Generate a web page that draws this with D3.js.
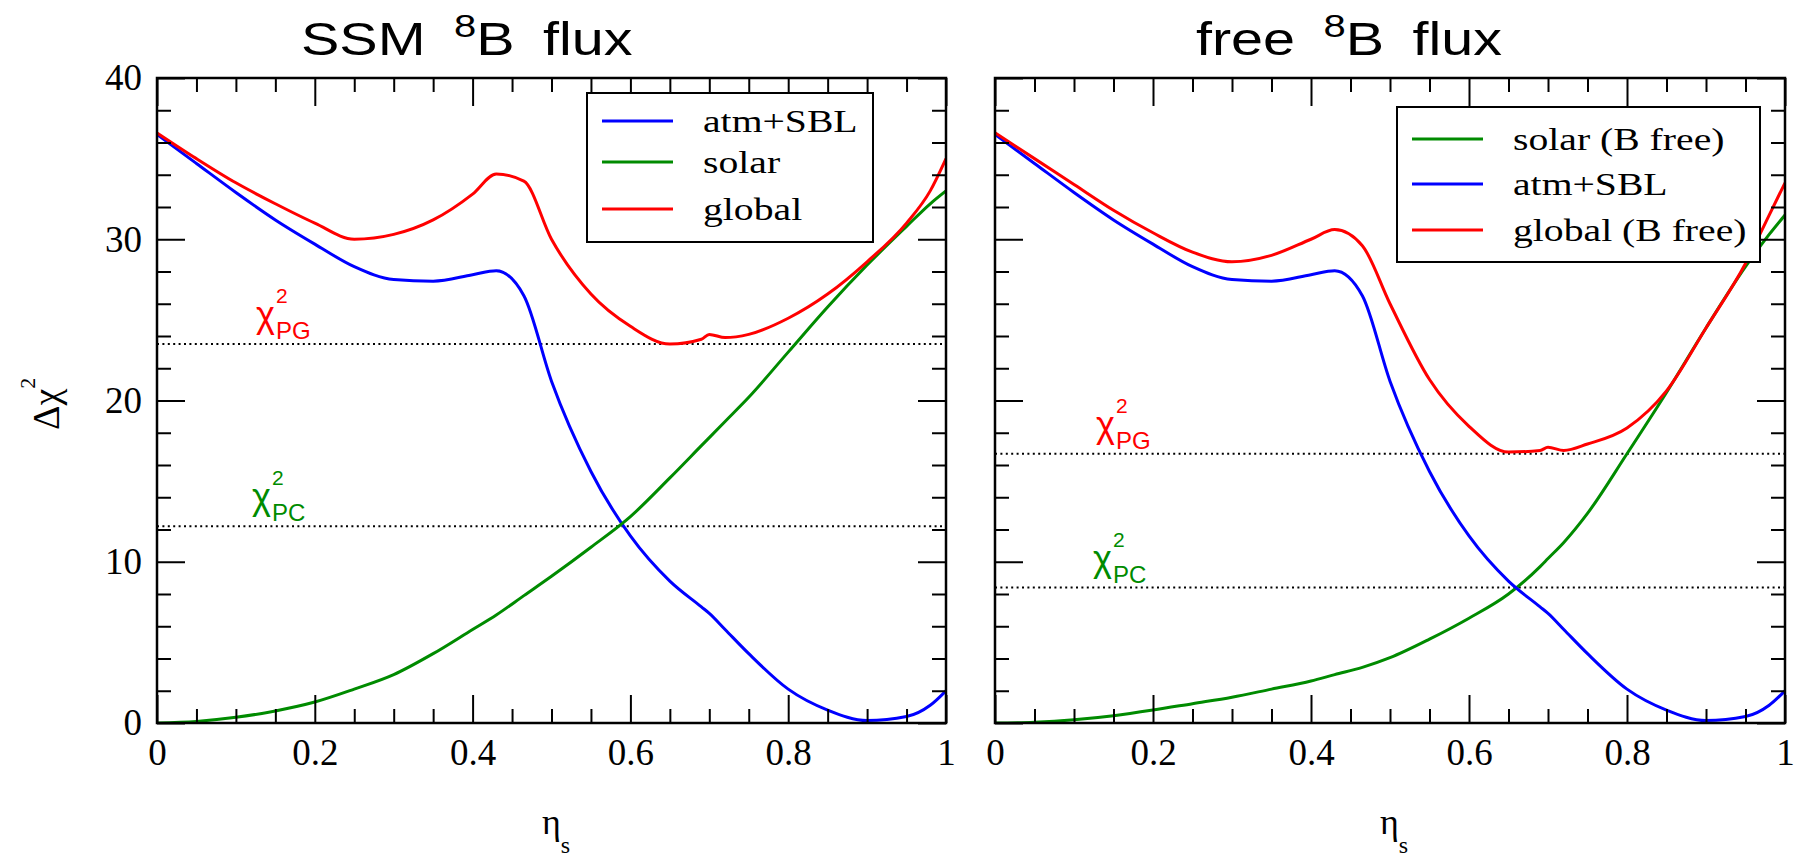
<!DOCTYPE html>
<meta charset="utf-8">
<style>
body { margin: 0; background: #fff; }
.tick text { font-family: "Liberation Serif", serif; font-size: 37px; fill: #000; }
.tick line { stroke: #000; stroke-width: 2; }
.sans { font-family: "Liberation Sans", Arial, sans-serif; }
.serif { font-family: "Liberation Serif", serif; }
</style>
<body>
<script src="https://d3js.org/d3.v7.min.js"></script>
<script>

width = 1802;
height = 859;

// eta_s grid shared by all curves
eta = [0, 0.05, 0.1, 0.15, 0.2, 0.25, 0.3, 0.35, 0.4, 0.43, 0.465, 0.5, 0.55, 0.6, 0.65, 0.69, 0.7, 0.72, 0.75, 0.8, 0.85, 0.9, 0.95, 0.98, 1]

atmSBL     = [36.5, 34.7, 32.9, 31.2, 29.7, 28.3, 27.5, 27.4, 27.8, 28.05, 26.5, 21.2, 15.6, 11.6, 8.8, 7.2, 6.8, 5.8, 4.3, 2.1, 0.8, 0.15, 0.4, 1.1, 2.0]
solarSSM   = [0, 0.1, 0.35, 0.75, 1.3, 2.1, 3.0, 4.3, 5.8, 6.7, 7.9, 9.1, 10.9, 12.8, 15.2, 17.2, 17.7, 18.7, 20.2, 23.0, 25.8, 28.4, 30.8, 32.2, 33.0]
globalSSM  = [36.6, 35.0, 33.5, 32.2, 31.0, 30.0, 30.3, 31.2, 32.8, 34.05, 33.6, 30.0, 26.6, 24.6, 23.5, 23.8, 24.1, 23.9, 24.1, 25.1, 26.6, 28.6, 31.0, 33.0, 35.0]
solarFree  = [0, 0.05, 0.2, 0.45, 0.8, 1.2, 1.6, 2.1, 2.6, 3.0, 3.45, 4.05, 5.2, 6.5, 8.0, 9.7, 10.2, 11.2, 13.0, 16.7, 20.5, 24.5, 28.3, 30.3, 31.5]
globalFree = [36.6, 35.0, 33.4, 31.8, 30.4, 29.2, 28.6, 29.0, 30.0, 30.6, 29.6, 26.0, 21.3, 18.4, 16.8, 16.9, 17.1, 16.9, 17.3, 18.3, 20.6, 24.5, 28.5, 31.5, 33.5]

xTicks = [0, 0.2, 0.4, 0.6, 0.8, 1]
yTicks = [0, 10, 20, 30, 40]
chiPG = [23.5, 16.7]
chiPC = [12.2, 8.4]
titleWords = ["SSM", "free"]
legendSSM = ["atm+SBL", "solar", "global"]
legendFree = ["solar (B free)", "atm+SBL", "global (B free)"]

colors = {atm: "#0000ff", solar: "#008b00", global: "#ff0000"}

panels = [
  {x0: 157, x1: 946, title: titleWords[0], titleX: 301, yLabels: true, pg: chiPG[0], pc: chiPC[0], pgDx: 99, pcDx: 95,
   series: [[atmSBL, colors.atm], [solarSSM, colors.solar], [globalSSM, colors.global]],
   legend: {x: 587, y: 93, w: 286, h: 149, rows: [121, 162, 209],
            items: [[legendSSM[0], colors.atm], [legendSSM[1], colors.solar], [legendSSM[2], colors.global]]}},
  {x0: 995, x1: 1785, title: titleWords[1], titleX: 1196, yLabels: false, pg: chiPG[1], pc: chiPC[1], pgDx: 101, pcDx: 98,
   series: [[solarFree, colors.solar], [atmSBL, colors.atm], [globalFree, colors.global]],
   legend: {x: 1397, y: 107, w: 363, h: 155, rows: [139, 184, 230],
            items: [[legendFree[0], colors.solar], [legendFree[1], colors.atm], [legendFree[2], colors.global]]}}
]

var svg = d3.select("body").append("svg")
    .attr("width", width)
    .attr("height", height)

top_ = 78
bottom_ = 723
y = d3.scaleLinear([0, 40], [bottom_, top_])

minorX = d3.range(0, 1.0001, 0.05).filter(v => Math.abs(v * 5 - Math.round(v * 5)) > 1e-6)
minorY = d3.range(0, 40.001, 2).filter(v => v % 10 !== 0)

panels.forEach(function(p, k) {
  x = d3.scaleLinear([0, 1], [p.x0, p.x1])
  g = svg.append("g")

  g.append("clipPath").attr("id", "clip" + k)
    .append("rect").attr("x", p.x0).attr("y", top_).attr("width", p.x1 - p.x0).attr("height", bottom_ - top_)

  // dotted reference lines
  g.selectAll("line.ref")
    .data([p.pg, p.pc])
    .join("line")
      .attr("class", "ref")
      .attr("x1", p.x0).attr("x2", p.x1)
      .attr("y1", d => y(d)).attr("y2", d => y(d))
      .attr("stroke", "#000")
      .attr("stroke-width", 2)
      .attr("stroke-dasharray", "2,3.4")

  // chi^2 labels
  labels = [[p.pg, p.pgDx, "PG", colors.global], [p.pc, p.pcDx, "PC", colors.solar]]
  labels.forEach(function(l) {
    ly = y(l[0])
    lx = p.x0 + l[1]
    g.append("text").attr("class", "sans").attr("x", lx).attr("y", ly - 17)
      .style("font-size", "36px").attr("fill", l[3]).text("χ")
    g.append("text").attr("class", "sans").attr("x", lx + 20).attr("y", ly - 41)
      .style("font-size", "21px").attr("fill", l[3]).text("2")
    g.append("text").attr("class", "sans").attr("x", lx + 20).attr("y", ly - 5)
      .style("font-size", "24px").attr("fill", l[3]).text(l[2])
  })

  // curves
  line = d3.line()
    .x((d, i) => x(eta[i]))
    .y(d => y(d))
    .curve(d3.curveMonotoneX)

  g.append("g").attr("clip-path", "url(#clip" + k + ")")
    .selectAll("path")
    .data(p.series)
    .join("path")
      .attr("d", d => line(d[0]))
      .attr("fill", "none")
      .attr("stroke", d => d[1])
      .attr("stroke-width", 3)

  // axes, ticks inward on all sides
  g.append("g").attr("transform", "translate(0," + bottom_ + ")")
    .call(d3.axisBottom(x).tickValues(xTicks).tickSize(-28).tickSizeOuter(0).tickPadding(16).tickFormat(d3.format("~g")))
  g.append("g").attr("transform", "translate(0," + bottom_ + ")")
    .call(d3.axisBottom(x).tickValues(minorX).tickSize(-14).tickSizeOuter(0).tickFormat(""))
  g.append("g").attr("transform", "translate(0," + top_ + ")")
    .call(d3.axisTop(x).tickValues(xTicks).tickSize(-28).tickSizeOuter(0).tickFormat(""))
  g.append("g").attr("transform", "translate(0," + top_ + ")")
    .call(d3.axisTop(x).tickValues(minorX).tickSize(-14).tickSizeOuter(0).tickFormat(""))
  g.append("g").attr("transform", "translate(" + p.x0 + ",0)")
    .call(d3.axisLeft(y).tickValues(yTicks).tickSize(-28).tickSizeOuter(0).tickPadding(15).tickFormat(p.yLabels ? d3.format("d") : ""))
  g.append("g").attr("transform", "translate(" + p.x0 + ",0)")
    .call(d3.axisLeft(y).tickValues(minorY).tickSize(-14).tickSizeOuter(0).tickFormat(""))
  g.append("g").attr("transform", "translate(" + p.x1 + ",0)")
    .call(d3.axisRight(y).tickValues(yTicks).tickSize(-28).tickSizeOuter(0).tickFormat(""))
  g.append("g").attr("transform", "translate(" + p.x1 + ",0)")
    .call(d3.axisRight(y).tickValues(minorY).tickSize(-14).tickSizeOuter(0).tickFormat(""))
  g.selectAll(".domain").remove()

  g.append("rect")
    .attr("x", p.x0).attr("y", top_)
    .attr("width", p.x1 - p.x0).attr("height", bottom_ - top_)
    .attr("fill", "none").attr("stroke", "#000").attr("stroke-width", 2.5)

  // legend
  lg = p.legend
  g.append("rect")
    .attr("x", lg.x).attr("y", lg.y).attr("width", lg.w).attr("height", lg.h)
    .attr("fill", "#fff").attr("stroke", "#000").attr("stroke-width", 2)
  lg.items.forEach(function(it, i) {
    g.append("line")
      .attr("x1", lg.x + 15).attr("x2", lg.x + 86)
      .attr("y1", lg.rows[i]).attr("y2", lg.rows[i])
      .attr("stroke", it[1]).attr("stroke-width", 3)
    g.append("text").attr("class", "serif")
      .attr("transform", "translate(" + (lg.x + 116) + "," + (lg.rows[i] + 11) + ") scale(1.28,1)")
      .style("font-size", "31px")
      .text(it[0])
  })

  // title
  t = svg.append("text").attr("class", "sans")
    .attr("transform", "translate(" + p.titleX + ",55) scale(1.25,1)")
    .style("font-size", "46px")
    .style("word-spacing", "10px")
  t.append("tspan").text(p.title + " ")
  t.append("tspan").attr("dy", -18).style("font-size", "32px").text("8")
  t.append("tspan").attr("dy", 18).text("B flux")

  // x label
  xl = svg.append("text").attr("class", "serif").attr("x", p.x0 + 385).attr("y", 834)
  xl.append("tspan").style("font-size", "36px").text("η")
  xl.append("tspan").attr("dy", 19).style("font-size", "24px").text("s")
})

// y label
yl = svg.append("text").attr("class", "serif")
  .attr("transform", "translate(59,430) rotate(-90)")
yl.append("tspan").style("font-size", "38px").text("Δχ")
yl.append("tspan").attr("dy", -24).style("font-size", "22px").text("2")

</script>
